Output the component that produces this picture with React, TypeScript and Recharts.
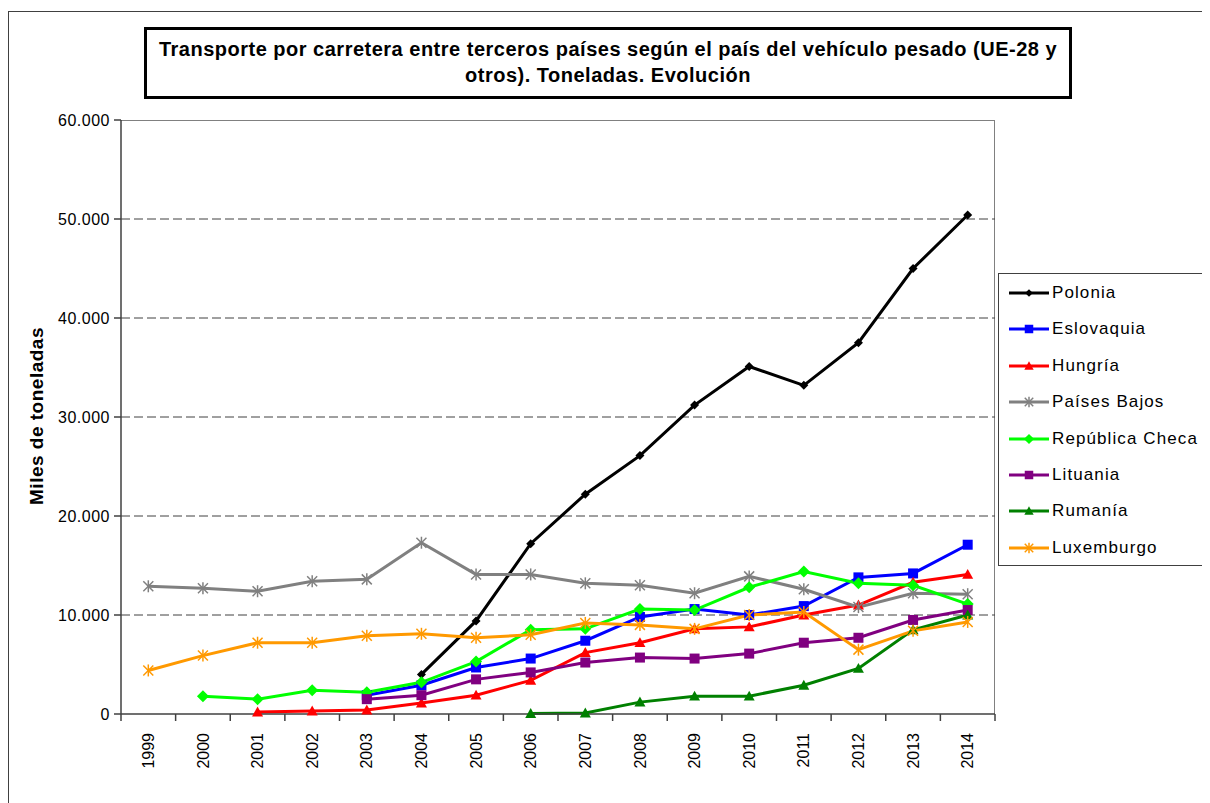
import { LineChart, Line, XAxis, YAxis, CartesianGrid } from "recharts"

const years = ["1999", "2000", "2001", "2002", "2003", "2004", "2005", "2006", "2007", "2008", "2009", "2010", "2011", "2012", "2013", "2014"]

const polonia = [null, null, null, null, null, 4000, 9400, 17200, 22200, 26100, 31200, 35100, 33200, 37500, 45000, 50400]
const eslovaquia = [null, null, null, null, 1900, 2900, 4700, 5600, 7400, 9800, 10600, 10000, 10900, 13800, 14200, 17100]
const hungria = [null, null, 200, 300, 400, 1100, 1900, 3400, 6200, 7200, 8600, 8800, 10000, 11000, 13300, 14100]
const paisesBajos = [12900, 12700, 12400, 13400, 13600, 17300, 14100, 14100, 13200, 13000, 12200, 13900, 12600, 10800, 12200, 12100]
const republicaCheca = [null, 1800, 1500, 2400, 2200, 3200, 5300, 8500, 8600, 10600, 10500, 12800, 14400, 13200, 13000, 11100]
const lituania = [null, null, null, null, 1500, 1900, 3500, 4200, 5200, 5700, 5600, 6100, 7200, 7700, 9500, 10500]
const rumania = [null, null, null, null, null, null, null, 50, 100, 1200, 1800, 1800, 2900, 4600, 8500, 10000]
const luxemburgo = [4400, 5900, 7200, 7200, 7900, 8100, 7700, 8000, 9200, 9000, 8600, 10000, 10300, 6500, 8400, 9300]

const yTicks = [0, 10000, 20000, 30000, 40000, 50000, 60000]
const gridValues = [10000, 20000, 30000, 40000, 50000]

type Shape = "diamond" | "square" | "triangle" | "star"

const series: { name: string; values: (number | null)[]; color: string; shape: Shape; size: number }[] = [
  { name: "Polonia", values: polonia, color: "#000000", shape: "diamond", size: 9 },
  { name: "Eslovaquia", values: eslovaquia, color: "#0000ff", shape: "square", size: 10 },
  { name: "Hungría", values: hungria, color: "#ff0000", shape: "triangle", size: 11 },
  { name: "Países Bajos", values: paisesBajos, color: "#808080", shape: "star", size: 10 },
  { name: "República Checa", values: republicaCheca, color: "#00ff00", shape: "diamond", size: 12 },
  { name: "Lituania", values: lituania, color: "#800080", shape: "square", size: 10 },
  { name: "Rumanía", values: rumania, color: "#008000", shape: "triangle", size: 11 },
  { name: "Luxemburgo", values: luxemburgo, color: "#ff9900", shape: "star", size: 10 },
]

const data = years.map((year, i) => {
  const row: Record<string, string | number | null> = { year }
  series.forEach((s) => (row[s.name] = s.values[i]))
  return row
})

const FONT = "'Liberation Sans', Arial, sans-serif"
const W = 1202
const H = 795
const M = { top: 112, right: 215, left: 33, bottom: 39 }
const Y_W = 80
const X_H = 50
const PLOT_W = W - M.left - M.right - Y_W
const PLOT_H = H - M.top - M.bottom - X_H
const STEP = PLOT_W / years.length

function marker(shape: Shape, color: string, size: number, cx: number, cy: number, key?: string) {
  const r = size / 2
  if (shape === "diamond")
    return <polygon key={key} points={`${cx},${cy - r} ${cx + r},${cy} ${cx},${cy + r} ${cx - r},${cy}`} fill={color} />
  if (shape === "square") return <rect key={key} x={cx - r} y={cy - r} width={size} height={size} fill={color} />
  if (shape === "triangle")
    return <polygon key={key} points={`${cx},${cy - r} ${cx + r},${cy + r * 0.8} ${cx - r},${cy + r * 0.8}`} fill={color} />
  return (
    <g key={key} stroke={color} strokeWidth={1.5}>
      <line x1={cx - r} y1={cy - r} x2={cx + r} y2={cy + r} />
      <line x1={cx - r} y1={cy + r} x2={cx + r} y2={cy - r} />
      <line x1={cx} y1={cy - r - 1} x2={cx} y2={cy + r + 1} />
    </g>
  )
}

const makeDot = (shape: Shape, color: string, size: number) => (props: any) => {
  const { cx, cy, index, value } = props
  if (cx == null || cy == null || value == null) return <g key={`e${index}`} />
  return marker(shape, color, size, cx, cy, `d${index}`)
}

const YearTick = (props: any) => {
  const { x, y, payload, index } = props
  const ty = y + 19
  return (
    <g>
      <line x1={x - STEP / 2} y1={y} x2={x - STEP / 2} y2={y + 7} stroke="#404040" strokeWidth={1.5} />
      {index === years.length - 1 && <line x1={x + STEP / 2} y1={y} x2={x + STEP / 2} y2={y + 7} stroke="#404040" strokeWidth={1.5} />}
      <text x={x} y={ty} transform={`rotate(-90 ${x} ${ty})`} textAnchor="end" dy="0.35em" fontSize={16} fontFamily={FONT} fill="#000">
        {payload.value}
      </text>
    </g>
  )
}

const fmt = (v: number) => (v === 0 ? "0" : (v / 1000).toFixed(3))

export default function App() {
  return (
    <div style={{ position: "relative", width: W, height: H, overflow: "hidden", fontFamily: FONT }}>
      <style>{`html,body{overflow:hidden}`}</style>
      <div style={{ position: "absolute", left: 0, top: 3, width: 1200, height: 900, border: "1px solid #404040", boxSizing: "border-box" }} />
      <div
        style={{
          position: "absolute",
          left: M.left + Y_W,
          top: M.top,
          width: PLOT_W,
          height: PLOT_H,
          borderTop: "1px solid #808080",
          borderRight: "1px solid #808080",
          boxSizing: "border-box",
        }}
      />
      <LineChart width={W} height={H} data={data} margin={M}>
        <CartesianGrid vertical={false} horizontalValues={gridValues} stroke="#404040" strokeDasharray="9 4" />
        <XAxis
          dataKey="year"
          interval={0}
          padding={{ left: STEP / 2, right: STEP / 2 }}
          tickLine={false}
          tickSize={0}
          tickMargin={0}
          height={X_H}
          stroke="#404040"
          strokeWidth={1.5}
          tick={<YearTick />}
        />
        <YAxis
          domain={[0, 60000]}
          ticks={yTicks}
          width={Y_W}
          tickSize={7}
          tickMargin={4}
          tickFormatter={fmt}
          stroke="#404040"
          strokeWidth={1.5}
          tick={{ fontSize: 16, fill: "#000", fontFamily: FONT, letterSpacing: 0.5 }}
        />
        {series.map((s) => (
          <Line
            key={s.name}
            dataKey={s.name}
            name={s.name}
            stroke={s.color}
            strokeWidth={3}
            dot={makeDot(s.shape, s.color, s.size)}
            activeDot={false}
            connectNulls={false}
            isAnimationActive={false}
          />
        ))}
      </LineChart>
      <div
        style={{
          position: "absolute",
          left: 136,
          top: 19,
          width: 928,
          height: 72,
          border: "3px solid #000",
          boxSizing: "border-box",
          textAlign: "center",
          fontWeight: "bold",
          fontSize: 20,
          letterSpacing: 0.5,
          lineHeight: "26px",
          paddingTop: 6,
          background: "#fff",
          whiteSpace: "nowrap",
        }}
      >
        Transporte por carretera entre terceros países según el país del vehículo pesado (UE-28 y
        <br />
        otros). Toneladas. Evolución
      </div>
      <div
        style={{
          position: "absolute",
          left: 29,
          top: 408,
          transform: "translate(-50%, -50%) rotate(-90deg)",
          whiteSpace: "nowrap",
          fontWeight: "bold",
          fontSize: 19,
          letterSpacing: 0.5,
        }}
      >
        Miles de toneladas
      </div>
      <div
        style={{
          position: "absolute",
          left: 990,
          top: 265,
          width: 207,
          height: 293,
          border: "1px solid #404040",
          boxSizing: "border-box",
          background: "#fff",
        }}
      >
        {series.map((s, i) => (
          <div key={s.name} style={{ position: "absolute", left: 0, top: 19 + i * 36.4 - 12, height: 24, display: "flex", alignItems: "center" }}>
            <svg width={52} height={24}>
              <line x1={10} y1={12} x2={50} y2={12} stroke={s.color} strokeWidth={3} />
              {marker(s.shape, s.color, s.size * 0.85, 30, 12)}
            </svg>
            <span style={{ fontSize: 17, letterSpacing: 1.1, marginLeft: 1, whiteSpace: "nowrap" }}>{s.name}</span>
          </div>
        ))}
      </div>
    </div>
  )
}
